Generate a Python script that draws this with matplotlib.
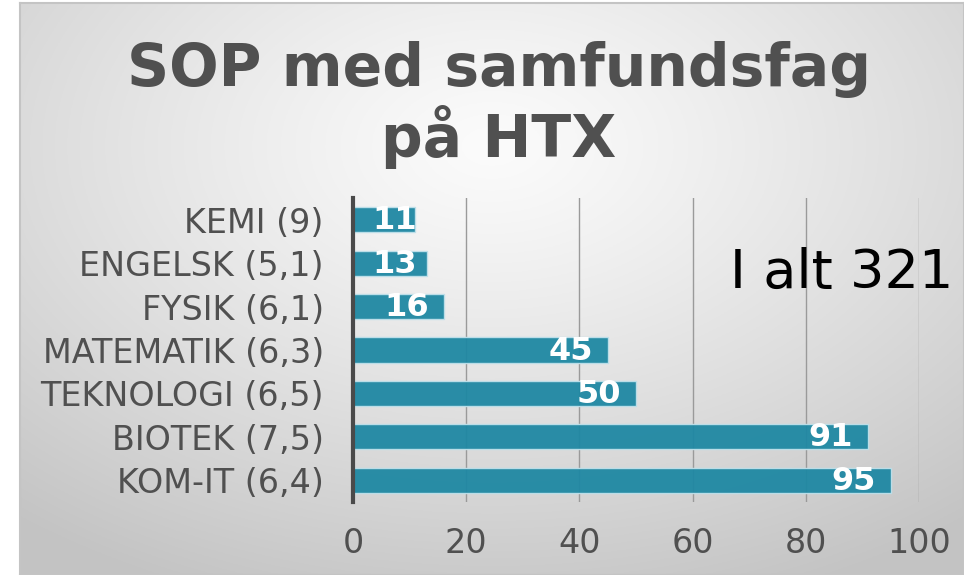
import matplotlib
matplotlib.use("Agg")
import matplotlib.pyplot as plt
import matplotlib.transforms as mtransforms
import numpy as np

# ── Data ──────────────────────────────────────────────────────────────────────
fag = ["KOM-IT (6,4)", "BIOTEK (7,5)", "TEKNOLOGI (6,5)", "MATEMATIK (6,3)",
       "FYSIK (6,1)", "ENGELSK (5,1)", "KEMI (9)"]
antal = [95, 91, 50, 45, 16, 13, 11]
titel = "SOP med samfundsfag\npå HTX"
i_alt = "I alt 321"

W, H = 964, 575
fig = plt.figure(figsize=(W / 100, H / 100), dpi=100)
fig.patch.set_facecolor("white")

# ── Baggrund: radial gradient ─────────────────────────────────────────────────
bg = fig.add_axes([20 / W, 0, 1 - 20 / W, 1 - 3 / H])
yy, xx = np.mgrid[0:1:300j, 0:1:500j]
r = np.sqrt(((xx - 0.5) / 0.8) ** 2 + ((yy - 0.75) / 0.85) ** 2)
r = np.clip(r, 0, 1)
grey = 0.985 - 0.22 * r ** 1.2
bg.imshow(np.dstack([grey] * 3), aspect="auto", extent=[0, 1, 0, 1], origin="lower")
bg.set_xticks([])
bg.set_yticks([])
for s in bg.spines.values():
    s.set_color("#c4c4c4")
    s.set_linewidth(1.5)

# ── Diagram ───────────────────────────────────────────────────────────────────
ax = fig.add_axes([353 / W, 1 - 502 / H, (919 - 353) / W, (502 - 198) / H])
ax.patch.set_alpha(0)
y = np.arange(len(fag))
ax.barh(y, antal, height=0.58, color="#1f88a3", alpha=0.95,
        edgecolor="#bfe0ea", linewidth=1, zorder=2)

ax.set_xlim(0, 100)
ax.set_ylim(-0.5, len(fag) - 0.5)
ax.set_xticks(range(0, 101, 20))
ax.set_yticks(y)
ax.set_yticklabels(fag)
ax.grid(axis="x", color="#9a9a9a", linewidth=1, zorder=1)
ax.set_axisbelow(True)
ax.tick_params(axis="both", length=0, labelsize=24, labelcolor="#505050")
ax.tick_params(axis="y", pad=21)
ax.tick_params(axis="x", pad=18)
for s in ["top", "right", "bottom"]:
    ax.spines[s].set_visible(False)
ax.spines["left"].set_color("#4a4a4a")
ax.spines["left"].set_linewidth(3)
ax.spines["left"].set_zorder(4)

# værdier inde i enden af søjlen
for yi, v in zip(y, antal):
    if v < 15:
        tr = ax.transData + mtransforms.ScaledTranslation(19 / 100, -1 / 100, fig.dpi_scale_trans)
        ax.text(0, yi, str(v), transform=tr, ha="left", va="center",
                color="white", fontsize=23, fontweight="bold", zorder=5)
    else:
        tr = ax.transData + mtransforms.ScaledTranslation(-15 / 100, -1 / 100, fig.dpi_scale_trans)
        ax.text(v, yi, str(v), transform=tr, ha="right", va="center",
                color="white", fontsize=23, fontweight="bold", zorder=5)

fig.text(499 / W, 1 - 105 / H, titel, ha="center", va="center", fontsize=42,
         fontweight="bold", color="#505050", linespacing=1.15)
fig.text(842 / W, 1 - 273 / H, i_alt, ha="center", va="center", fontsize=39,
         color="black")

fig.savefig("out.png", dpi=100)
